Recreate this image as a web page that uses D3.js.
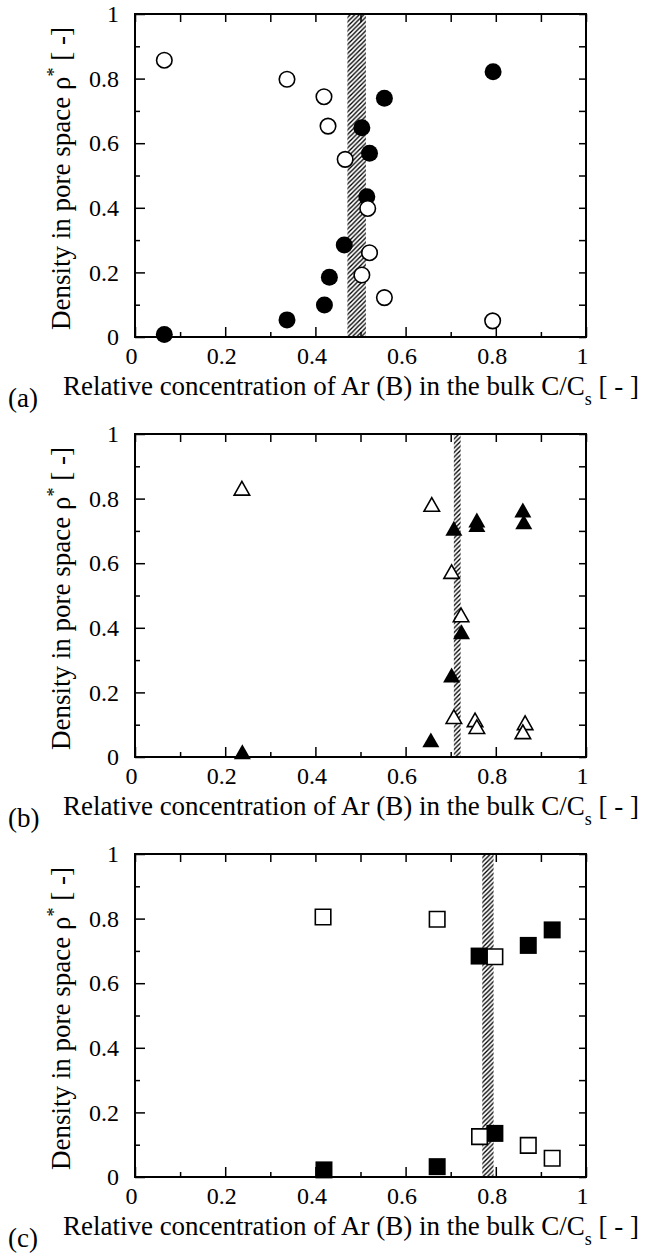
<!DOCTYPE html>
<html>
<head>
<meta charset="utf-8">
<script src="https://cdn.jsdelivr.net/npm/d3@7"></script>
<style>
  body { margin: 0; background: #fff; }
  svg text { font-family: 'Liberation Serif', 'Times New Roman', Times, 'DejaVu Serif', serif; fill: #000; }
</style>
</head>
<body>
<div id="content"></div>
<script>
// values (x = C/Cs, y = rho*)
var aOpenX   = [0.065, 0.337, 0.419, 0.428, 0.466, 0.516, 0.520, 0.503, 0.553, 0.793];
var aOpenY   = [0.857, 0.798, 0.744, 0.653, 0.550, 0.398, 0.261, 0.192, 0.122, 0.050];
var aFilledX = [0.065, 0.337, 0.420, 0.431, 0.464, 0.514, 0.520, 0.503, 0.553, 0.794];
var aFilledY = [0.008, 0.053, 0.099, 0.185, 0.285, 0.434, 0.569, 0.648, 0.739, 0.821];
var aBand    = [0.471, 0.512];

var bOpenX   = [0.237, 0.658, 0.702, 0.723, 0.707, 0.754, 0.758, 0.865, 0.860];
var bOpenY   = [0.832, 0.782, 0.574, 0.440, 0.125, 0.115, 0.094, 0.106, 0.078];
var bFilledX = [0.238, 0.656, 0.707, 0.724, 0.702, 0.758, 0.758, 0.860, 0.862];
var bFilledY = [0.016, 0.053, 0.708, 0.388, 0.254, 0.734, 0.720, 0.765, 0.728];
var bBand    = [0.707, 0.722];

var cOpenX   = [0.417, 0.670, 0.798, 0.764, 0.872, 0.925];
var cOpenY   = [0.805, 0.798, 0.682, 0.125, 0.098, 0.058];
var cFilledX = [0.419, 0.670, 0.763, 0.798, 0.872, 0.925];
var cFilledY = [0.022, 0.032, 0.684, 0.135, 0.717, 0.765];
var cBand    = [0.770, 0.795];

var majorTicks = [0, 0.2, 0.4, 0.6, 0.8, 1];
var minorTicks = [0.1, 0.3, 0.5, 0.7, 0.9];
var allTicks = d3.range(0, 11).map(function(i) { return i / 10; });
var panelLetters = ["(a)", "(b)", "(c)"];
var panelShapes = ["circle", "triangle", "square"];

var width = 646, height = 1256;
var plotLeft = 135, plotW = 451, plotH = 323;
var panelTops = [14, 434, 854];
var serif = "'Liberation Serif', 'Times New Roman', Times, 'DejaVu Serif', serif";

var svg = d3.select("#content")
  .append("svg")
  .attr("width", width)
  .attr("height", height);

// hatch for the vertical band
svg.append("defs")
  .append("pattern")
    .attr("id", "hatch")
    .attr("patternUnits", "userSpaceOnUse")
    .attr("width", 4.5)
    .attr("height", 4.5)
  .append("path")
    .attr("d", "M-1,1 l2,-2 M0,4.5 l4.5,-4.5 M3.5,5.5 l2,-2")
    .attr("stroke", "#000")
    .attr("stroke-width", 1.35);

var panels = [
  {openX: aOpenX, openY: aOpenY, filledX: aFilledX, filledY: aFilledY, band: aBand},
  {openX: bOpenX, openY: bOpenY, filledX: bFilledX, filledY: bFilledY, band: bBand},
  {openX: cOpenX, openY: cOpenY, filledX: cFilledX, filledY: cFilledY, band: cBand}
];

function markerPath(shape, size) {
  var h = size / 2;
  if (shape == "triangle") {
    var th = size * 0.88 / 2;
    return "M0," + (-th) + "L" + h + "," + th + "L" + (-h) + "," + th + "Z";
  }
  if (shape == "square") {
    return "M" + (-h) + "," + (-h) + "H" + h + "V" + h + "H" + (-h) + "Z";
  }
  return d3.symbol().type(d3.symbolCircle).size(Math.PI * h * h)();
}

panels.forEach(function(p, k) {
  var top = panelTops[k];
  var g = svg.append("g")
    .attr("transform", "translate(" + plotLeft + "," + top + ")");

  var x = d3.scaleLinear().domain([0, 1]).range([0, plotW]);
  var y = d3.scaleLinear().domain([0, 1]).range([plotH, 0]);

  // hatched band
  g.append("rect")
    .attr("x", x(p.band[0]))
    .attr("y", 0)
    .attr("width", x(p.band[1]) - x(p.band[0]))
    .attr("height", plotH)
    .attr("fill", "url(#hatch)");

  // axes, ticks pointing inward
  var bottomMajor = d3.axisBottom(x).tickValues(majorTicks).tickSizeInner(-10).tickSizeOuter(0)
    .tickPadding(10).tickFormat(d3.format("~g"));
  var bottomMinor = d3.axisBottom(x).tickValues(minorTicks).tickSizeInner(-5).tickSizeOuter(0).tickFormat("");
  var leftMajor = d3.axisLeft(y).tickValues(majorTicks).tickSizeInner(-10).tickSizeOuter(0)
    .tickPadding(16).tickFormat(d3.format("~g"));
  var leftMinor = d3.axisLeft(y).tickValues(minorTicks).tickSizeInner(-5).tickSizeOuter(0).tickFormat("");
  var topAx = d3.axisTop(x).tickValues(allTicks).tickSizeInner(-8).tickSizeOuter(0).tickFormat("");
  var rightAx = d3.axisRight(y).tickValues(allTicks).tickSizeInner(-7).tickSizeOuter(0).tickFormat("");

  var axes = [
    [bottomMajor, "translate(0," + plotH + ")", "x"],
    [bottomMinor, "translate(0," + plotH + ")", ""],
    [leftMajor, null, "y"],
    [leftMinor, null, ""],
    [topAx, null, ""],
    [rightAx, "translate(" + plotW + ",0)", ""]
  ];
  axes.forEach(function(a) {
    var ag = g.append("g").call(a[0])
      .attr("font-family", serif)
      .attr("font-size", 24);
    if (a[1]) ag.attr("transform", a[1]);
    ag.select(".domain").remove();
    ag.selectAll(".tick line").attr("stroke", "#000").attr("stroke-width", 1.5);
    ag.selectAll(".tick text").attr("fill", "#000");
    if (a[2] == "x") ag.selectAll(".tick text").attr("dx", -4);
  });

  // frame
  g.append("rect")
    .attr("width", plotW)
    .attr("height", plotH)
    .attr("fill", "none")
    .attr("stroke", "#000")
    .attr("stroke-width", 2);

  var shape = panelShapes[k];
  var filledSize = 17;
  var openSize = 15.5;

  var filledData = p.filledX.map(function(v, i) { return [v, p.filledY[i]]; });
  var openData = p.openX.map(function(v, i) { return [v, p.openY[i]]; });

  g.selectAll(".filled")
    .data(filledData)
    .join("path")
      .attr("class", "filled")
      .attr("transform", function(d) { return "translate(" + x(d[0]) + "," + y(d[1]) + ")"; })
      .attr("d", markerPath(shape, filledSize))
      .attr("fill", "#000");

  g.selectAll(".open")
    .data(openData)
    .join("path")
      .attr("class", "open")
      .attr("transform", function(d) { return "translate(" + x(d[0]) + "," + y(d[1]) + ")"; })
      .attr("d", markerPath(shape, openSize))
      .attr("fill", "#fff")
      .attr("stroke", "#000")
      .attr("stroke-width", 1.6);

  // y axis title
  var yt = svg.append("text")
    .attr("transform", "translate(70," + (top + plotH / 2 + 3) + ") rotate(-90)")
    .attr("text-anchor", "middle")
    .attr("font-family", serif)
    .attr("font-size", 27);
  yt.append("tspan").text("Density in pore space \u03c1");
  yt.append("tspan").text("*").attr("baseline-shift", "super").attr("font-size", 18);
  yt.append("tspan").text(" [ -]");

  // x axis title
  var xt = svg.append("text")
    .attr("x", 351)
    .attr("y", top + plotH + 58)
    .attr("text-anchor", "middle")
    .attr("font-family", serif)
    .attr("font-size", 27);
  xt.append("tspan").text("Relative concentration of Ar (B) in the bulk C/C");
  xt.append("tspan").text("s").attr("baseline-shift", "sub").attr("font-size", 18);
  xt.append("tspan").text(" [ - ]");

  svg.append("text")
    .attr("x", 8)
    .attr("y", top + plotH + 70)
    .attr("font-family", serif)
    .attr("font-size", 27)
    .text(panelLetters[k]);
});
</script>
</body>
</html>
